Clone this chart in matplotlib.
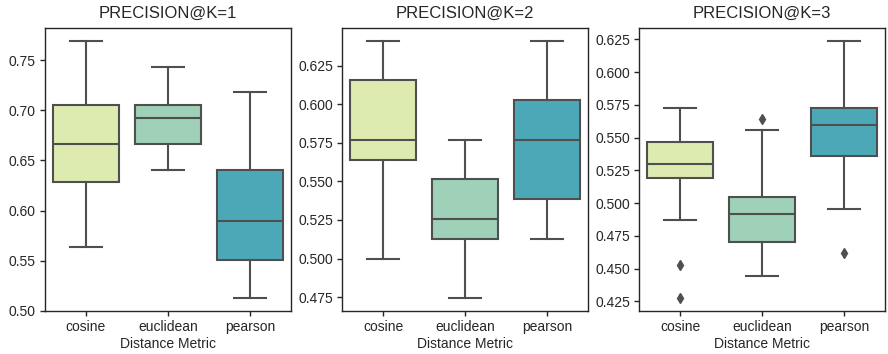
import matplotlib
matplotlib.use("Agg")
import matplotlib.pyplot as plt

plt.rcParams['font.family'] = ['Liberation Sans', 'DejaVu Sans']

titles = ["PRECISION@K=1", "PRECISION@K=2", "PRECISION@K=3"]
categories = ["cosine", "euclidean", "pearson"]
xlabel = "Distance Metric"

# per panel, per category: whislo, q1, median, q3, whishi
k1_stats = [
    [0.5641, 0.6282, 0.6667, 0.7051, 0.7692],
    [0.6410, 0.6667, 0.6923, 0.7051, 0.7436],
    [0.5128, 0.5513, 0.5897, 0.6410, 0.7179],
]
k1_fliers = [[], [], []]

k2_stats = [
    [0.5000, 0.5641, 0.5769, 0.6154, 0.6410],
    [0.4744, 0.5128, 0.5256, 0.5513, 0.5769],
    [0.5128, 0.5385, 0.5769, 0.6026, 0.6410],
]
k2_fliers = [[], [], []]

k3_stats = [
    [0.4872, 0.5192, 0.5299, 0.5470, 0.5726],
    [0.4444, 0.4701, 0.4915, 0.5043, 0.5556],
    [0.4957, 0.5363, 0.5598, 0.5726, 0.6239],
]
k3_fliers = [[0.4530, 0.4274], [0.5641], [0.4615]]

box_colors = ["#ddebb1", "#9fd0b8", "#4ba9b7"]
edge = "#4f4f4f"

panels = [(k1_stats, k1_fliers), (k2_stats, k2_fliers), (k3_stats, k3_fliers)]

W, H = 888, 354
fig = plt.figure(figsize=(W / 100, H / 100), dpi=100)
lefts = [45, 342, 639]
axw = 246
top, bottom = 28, 311

for i, ((stats, fliers), title) in enumerate(zip(panels, titles)):
    ax = fig.add_axes([lefts[i] / W, (H - bottom) / H, axw / W, (bottom - top) / H])
    bxstats = []
    for cat, s, f in zip(categories, stats, fliers):
        bxstats.append(dict(label=cat, whislo=s[0], q1=s[1], med=s[2], q3=s[3], whishi=s[4], fliers=f))
    bp = ax.bxp(bxstats, positions=range(len(categories)), widths=0.8, patch_artist=True,
                showfliers=True,
                boxprops=dict(edgecolor=edge, linewidth=1.5),
                whiskerprops=dict(color=edge, linewidth=1.5),
                capprops=dict(color=edge, linewidth=1.5),
                medianprops=dict(color=edge, linewidth=1.5),
                flierprops=dict(marker='d', markerfacecolor=edge, markeredgecolor=edge, markersize=5))
    for patch, c in zip(bp['boxes'], box_colors):
        patch.set_facecolor(c)
    ax.set_xlim(-0.5, len(categories) - 0.5)
    ax.set_xticks(range(len(categories)))
    ax.set_xticklabels(categories, fontsize=10)
    ax.set_xlabel(xlabel, fontsize=10, color="#262626", labelpad=2)
    ax.set_title(title, fontsize=12, color="#262626", pad=7)
    ax.tick_params(axis='both', labelsize=10, length=3.5, width=1, color="#262626", labelcolor="#262626", pad=3)
    for sp in ax.spines.values():
        sp.set_color("#262626")
        sp.set_linewidth(1)
    ax.margins(y=0.05)

fig.savefig("out.png", dpi=100)
